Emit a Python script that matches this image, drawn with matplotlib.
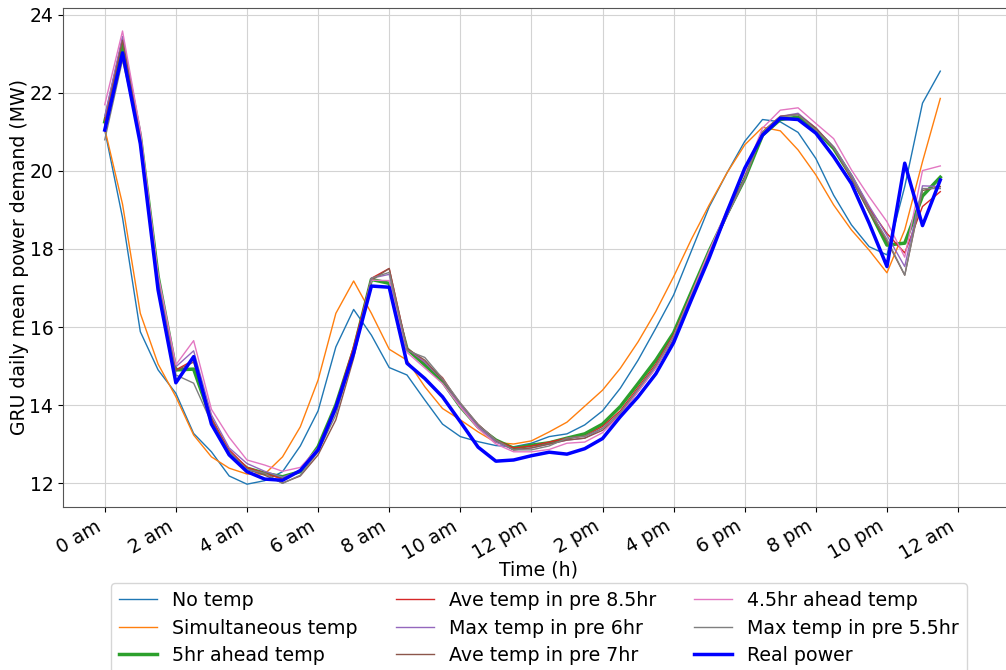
import numpy as np
import matplotlib
matplotlib.use("Agg")
import matplotlib.pyplot as plt

# half-hourly time axis (hours after midnight)
hours = np.arange(0, 24, 0.5)

tick_hours = list(range(0, 25, 2))
tick_labels = ["0 am", "2 am", "4 am", "6 am", "8 am", "10 am", "12 pm",
               "2 pm", "4 pm", "6 pm", "8 pm", "10 pm", "12 am"]

# predicted daily mean power demand (MW) for each temperature feature
no_temp = [21.05, 18.80, 15.88, 14.90, 14.30, 13.27, 12.80, 12.18, 11.97, 12.06,
           12.29, 12.95, 13.85, 15.49, 16.45, 15.79, 14.96, 14.77, 14.13, 13.51,
           13.19, 13.06, 12.96, 12.93, 13.02, 13.19, 13.26, 13.49, 13.85, 14.43,
           15.15, 15.97, 16.82, 17.95, 19.08, 19.95, 20.76, 21.32, 21.26, 20.99,
           20.32, 19.38, 18.62, 18.06, 17.85, 19.60, 21.74, 22.56]
simultaneous = [21.08, 19.15, 16.35, 15.05, 14.21, 13.23, 12.67, 12.38, 12.23, 12.23,
                12.67, 13.44, 14.64, 16.35, 17.18, 16.35, 15.43, 15.15, 14.47, 13.91,
                13.62, 13.31, 13.04, 13.00, 13.08, 13.31, 13.56, 13.97, 14.38, 14.94,
                15.62, 16.40, 17.29, 18.25, 19.13, 19.95, 20.67, 21.12, 21.03, 20.54,
                19.90, 19.13, 18.49, 17.97, 17.39, 18.49, 20.24, 21.86]
ahead_5hr = [21.26, 23.25, 20.90, 17.30, 14.90, 14.92, 13.62, 12.74, 12.38, 12.25,
             12.16, 12.29, 12.93, 14.00, 15.41, 17.22, 17.12, 15.44, 15.03, 14.60,
             13.96, 13.44, 13.10, 12.89, 12.97, 13.03, 13.15, 13.26, 13.51, 13.96,
             14.55, 15.15, 15.85, 16.90, 17.95, 18.90, 19.80, 20.92, 21.32, 21.38,
             21.05, 20.58, 19.86, 19.00, 18.10, 18.15, 19.36, 19.84]
ave_pre_8_5hr = [21.30, 23.40, 20.95, 17.25, 14.90, 15.15, 13.65, 12.85, 12.40, 12.25,
                 12.10, 12.30, 12.90, 14.00, 15.50, 17.25, 17.50, 15.45, 15.10, 14.70,
                 14.00, 13.50, 13.10, 12.90, 12.95, 13.05, 13.15, 13.20, 13.45, 13.85,
                 14.45, 15.05, 15.80, 16.85, 17.90, 18.90, 19.80, 21.00, 21.40, 21.45,
                 21.10, 20.60, 19.85, 19.05, 18.40, 17.90, 19.09, 19.47]
max_pre_6hr = [21.40, 23.45, 21.00, 17.30, 14.98, 15.39, 13.75, 12.90, 12.50, 12.30,
               12.15, 12.30, 12.85, 13.85, 15.35, 17.25, 17.35, 15.45, 15.10, 14.65,
               14.00, 13.45, 13.05, 12.85, 12.90, 13.00, 13.10, 13.15, 13.40, 13.80,
               14.40, 15.00, 15.75, 16.80, 17.85, 18.85, 19.80, 21.00, 21.40, 21.48,
               21.10, 20.62, 19.90, 19.10, 18.35, 17.55, 19.62, 19.60]
ave_pre_7hr = [21.20, 23.35, 20.95, 17.20, 14.88, 15.10, 13.60, 12.80, 12.35, 12.20,
               12.00, 12.18, 12.72, 13.62, 15.20, 17.20, 17.50, 15.45, 15.15, 14.65,
               14.05, 13.50, 13.10, 12.85, 12.90, 13.00, 13.10, 13.15, 13.35, 13.75,
               14.35, 14.95, 15.70, 16.80, 17.85, 18.85, 19.80, 21.00, 21.40, 21.45,
               21.10, 20.60, 19.80, 18.95, 18.20, 17.33, 19.50, 19.60]
ahead_4_5hr = [21.70, 23.59, 21.05, 17.35, 15.03, 15.65, 13.89, 13.17, 12.59, 12.46,
               12.30, 12.40, 12.90, 13.90, 15.35, 17.20, 17.19, 15.35, 14.95, 14.55,
               13.95, 13.40, 13.00, 12.80, 12.80, 12.86, 13.02, 13.05, 13.29, 13.75,
               14.35, 14.95, 15.75, 16.85, 17.95, 19.00, 19.95, 21.10, 21.56, 21.62,
               21.22, 20.83, 20.03, 19.34, 18.70, 17.79, 20.01, 20.13]
max_pre_5_5hr = [20.80, 22.85, 20.85, 17.20, 14.77, 14.56, 13.55, 12.80, 12.35, 12.25,
                 11.99, 12.20, 12.80, 13.75, 15.30, 17.25, 17.40, 15.40, 15.22, 14.68,
                 14.05, 13.50, 13.10, 12.85, 12.85, 12.95, 13.15, 13.20, 13.40, 13.80,
                 14.40, 15.00, 15.75, 16.80, 17.85, 18.85, 19.80, 21.00, 21.38, 21.45,
                 21.05, 20.60, 19.85, 19.00, 18.25, 17.33, 19.55, 19.55]
real_power = [21.05, 23.03, 20.70, 16.95, 14.57, 15.24, 13.51, 12.72, 12.29, 12.10,
              12.07, 12.32, 12.85, 13.94, 15.33, 17.05, 17.02, 15.07, 14.68, 14.21,
              13.57, 12.92, 12.56, 12.59, 12.70, 12.79, 12.74, 12.88, 13.14, 13.70,
              14.21, 14.80, 15.60, 16.70, 17.77, 18.95, 20.07, 20.92, 21.35, 21.32,
              20.97, 20.37, 19.68, 18.66, 17.55, 20.20, 18.60, 19.77]

series = [
    ("No temp", no_temp, "C0", 1.0),
    ("Simultaneous temp", simultaneous, "C1", 1.0),
    ("5hr ahead temp", ahead_5hr, "C2", 2.5),
    ("Ave temp in pre 8.5hr", ave_pre_8_5hr, "C3", 1.0),
    ("Max temp in pre 6hr", max_pre_6hr, "C4", 1.0),
    ("Ave temp in pre 7hr", ave_pre_7hr, "C5", 1.0),
    ("4.5hr ahead temp", ahead_4_5hr, "C6", 1.0),
    ("Max temp in pre 5.5hr", max_pre_5_5hr, "C7", 1.0),
    ("Real power", real_power, "blue", 2.5),
]

fig = plt.figure(figsize=(10.06, 6.70), dpi=100)
ax = fig.add_axes([0.0626, 0.2433, 0.9463, 0.7448])

for label, values, color, lw in series:
    ax.plot(hours, values, color=color, linewidth=lw, label=label)

ax.set_xticks(tick_hours)
ax.set_xticklabels(tick_labels, rotation=30, ha="right")
ax.tick_params(labelsize=13.5)
ax.set_xlim(-1.175, 25.6)
ax.set_ylim(11.385, 24.18)
ax.set_yticks([12, 14, 16, 18, 20, 22, 24])
ax.grid(True, color="#d3d3d3")
for spine in ax.spines.values():
    spine.set_color("#555555")

ax.set_xlabel("Time (h)", fontsize=13.6, labelpad=-2)
ax.set_ylabel("GRU daily mean power demand (MW)", fontsize=13.6, labelpad=0.5)

ax.legend(loc="upper center", bbox_to_anchor=(0.5, -0.134), ncol=3,
          fontsize=13.7, labelspacing=0.45)

fig.savefig("out.png", dpi=100)
